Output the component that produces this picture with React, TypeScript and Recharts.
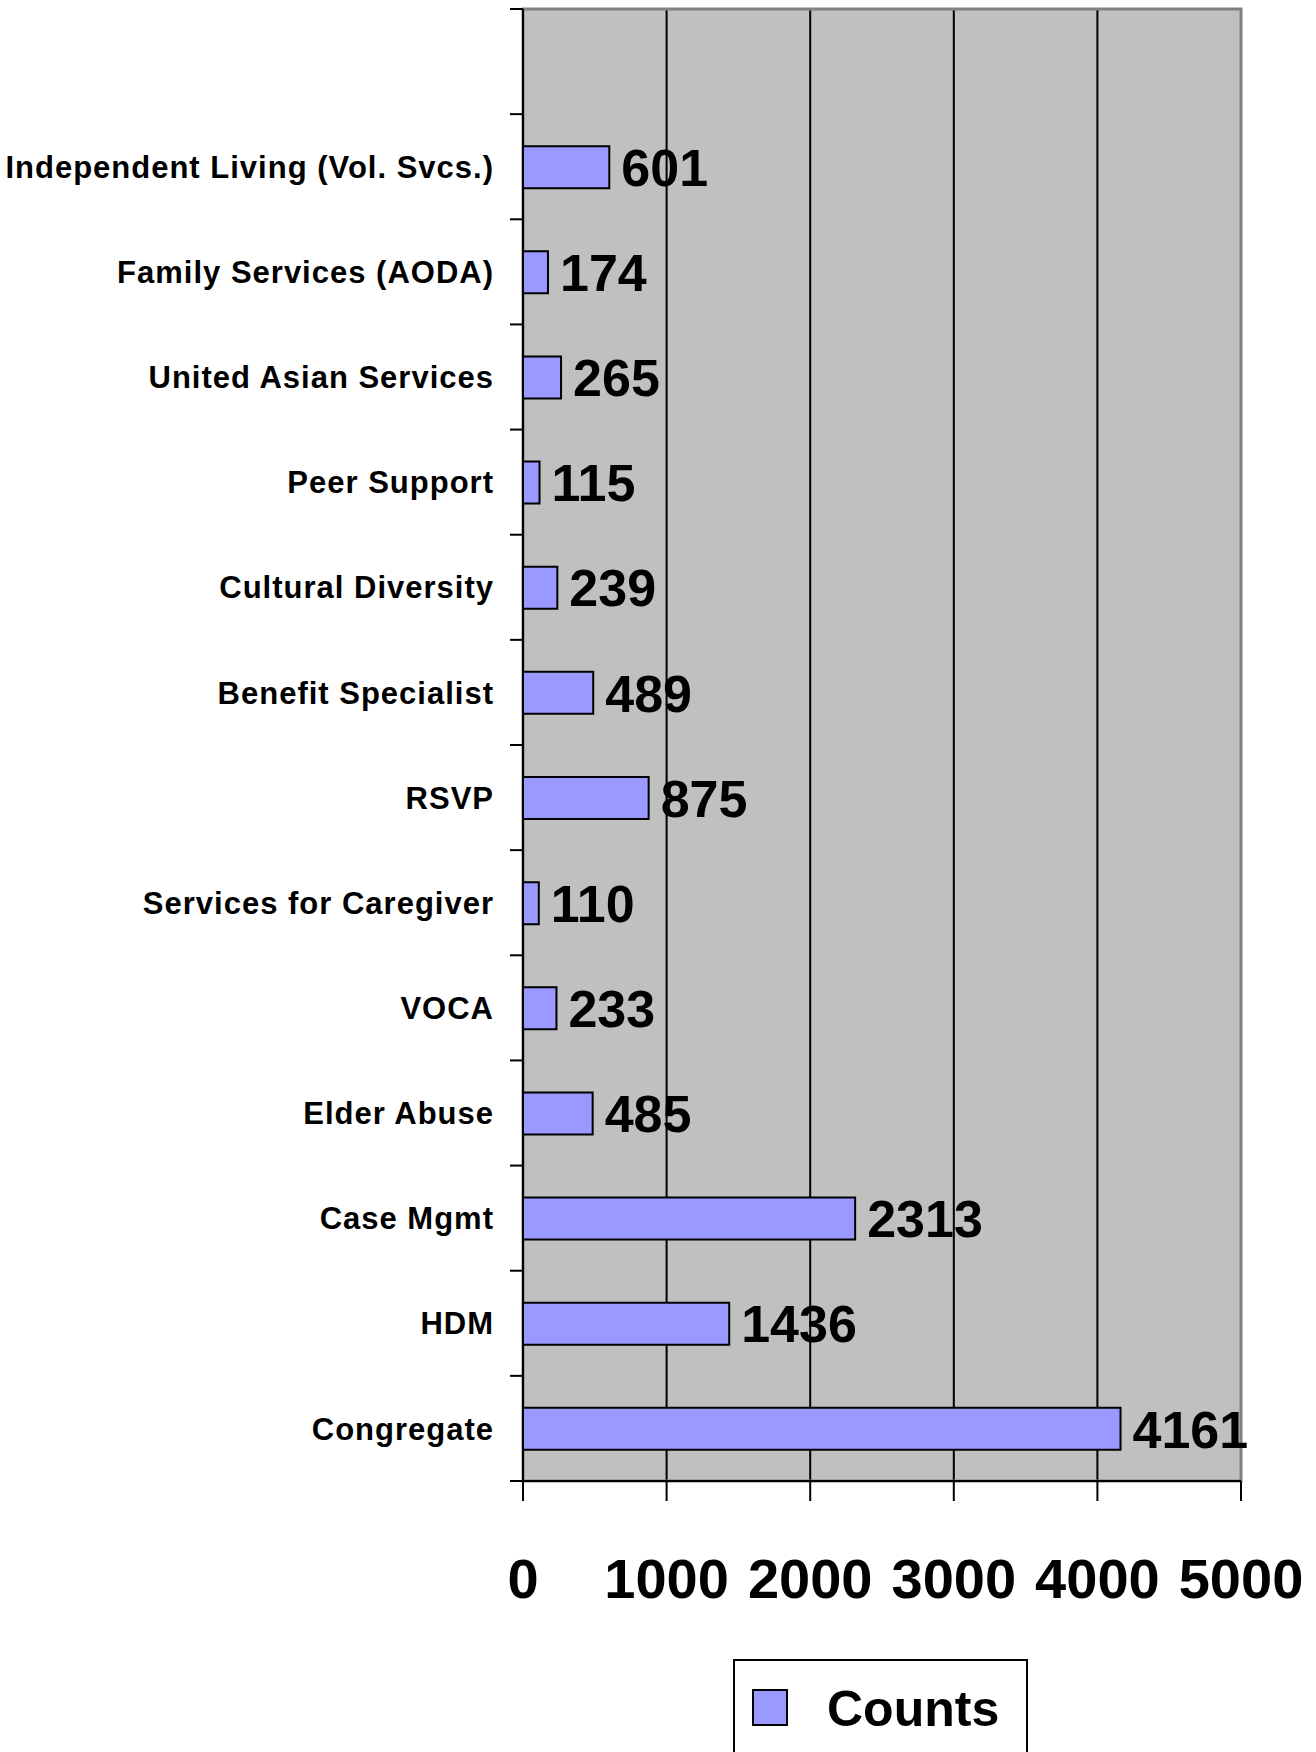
import { BarChart, Bar, XAxis, YAxis, CartesianGrid, LabelList, ReferenceArea } from 'recharts';

const categories = [
  '',
  'Independent Living (Vol. Svcs.)',
  'Family Services (AODA)',
  'United Asian Services',
  'Peer Support',
  'Cultural Diversity',
  'Benefit Specialist',
  'RSVP',
  'Services for Caregiver',
  'VOCA',
  'Elder Abuse',
  'Case Mgmt',
  'HDM',
  'Congregate',
];
const counts: (number | null)[] = [null, 601, 174, 265, 115, 239, 489, 875, 110, 233, 485, 2313, 1436, 4161];
const xTicks = [0, 1000, 2000, 3000, 4000, 5000];
const seriesName = 'Counts';

const data = categories.map((name, i) => ({ name, count: counts[i] }));

const W = 1316;
const H = 1752;
const PLOT_LEFT = 523;
const PLOT_RIGHT = 1241;
const PLOT_TOP = 9;
const PLOT_BOTTOM = 1481;
const BAND = (PLOT_BOTTOM - PLOT_TOP) / categories.length;
const FONT = '"Liberation Sans", Arial, sans-serif';

function CategoryTick(props: any) {
  const { y, payload, index } = props;
  const yc = payload.coordinate ?? y;
  const last = index === categories.length - 1;
  return (
    <g>
      <line x1={PLOT_LEFT - 13} x2={PLOT_LEFT} y1={yc - BAND / 2} y2={yc - BAND / 2} stroke="#000" strokeWidth={2} />
      {last && (
        <line x1={PLOT_LEFT - 13} x2={PLOT_LEFT} y1={yc + BAND / 2} y2={yc + BAND / 2} stroke="#000" strokeWidth={2} />
      )}
      <text
        x={PLOT_LEFT - 29}
        y={yc}
        dy="0.36em"
        textAnchor="end"
        fontFamily={FONT}
        fontWeight="bold"
        fontSize={31}
        letterSpacing={1}
        fill="#000"
      >
        {payload.value}
      </text>
    </g>
  );
}

function ValueTick(props: any) {
  const { x, payload } = props;
  return (
    <text x={x} y={PLOT_BOTTOM + 117} textAnchor="middle" fontFamily={FONT} fontWeight="bold" fontSize={56} fill="#000">
      {payload.value}
    </text>
  );
}

function BarValue(props: any) {
  const { x, y, width, height, value } = props;
  if (value == null) return null;
  return (
    <text
      x={Number(x) + Number(width) + 12}
      y={Number(y) + Number(height) / 2}
      dy="0.36em"
      fontFamily={FONT}
      fontWeight="bold"
      fontSize={52}
      fill="#000"
    >
      {value}
    </text>
  );
}

export default function App() {
  return (
    <div style={{ position: 'fixed', left: 0, top: 0, width: W, height: H, overflow: 'hidden', background: '#fff' }}>
      <BarChart
        layout="vertical"
        width={W}
        height={H}
        data={data}
        margin={{ top: PLOT_TOP, right: W - PLOT_RIGHT, bottom: 0, left: 0 }}
      >
        <CartesianGrid horizontal={false} stroke="#000" strokeWidth={2} fill="#c0c0c0" fillOpacity={1} />
        <ReferenceArea x1={0} x2={5000} fill="none" stroke="#808080" strokeWidth={3} />
        <XAxis
          type="number"
          domain={[0, 5000]}
          ticks={xTicks}
          height={H - PLOT_BOTTOM}
          axisLine={{ stroke: '#000', strokeWidth: 2 }}
          tickLine={{ stroke: '#000', strokeWidth: 2 }}
          tickSize={20}
          tick={<ValueTick />}
          interval={0}
        />
        <YAxis
          type="category"
          dataKey="name"
          width={PLOT_LEFT}
          axisLine={{ stroke: '#000', strokeWidth: 2 }}
          tickLine={false}
          tick={<CategoryTick />}
          interval={0}
        />
        <Bar dataKey="count" fill="#9999ff" stroke="#000" strokeWidth={2} barSize={42} isAnimationActive={false}>
          <LabelList dataKey="count" content={<BarValue />} />
        </Bar>
      </BarChart>
      <div
        style={{
          position: 'absolute',
          left: 733,
          top: 1659,
          width: 295,
          height: 120,
          border: '2px solid #000',
          background: '#fff',
          boxSizing: 'border-box',
        }}
      >
        <div
          style={{
            position: 'absolute',
            left: 17,
            top: 28,
            width: 36,
            height: 37,
            background: '#9999ff',
            border: '2px solid #000',
            boxSizing: 'border-box',
          }}
        />
        <div
          style={{
            position: 'absolute',
            left: 92,
            top: 20,
            fontFamily: FONT,
            fontWeight: 'bold',
            fontSize: 50,
            lineHeight: '56px',
            color: '#000',
          }}
        >
          {seriesName}
        </div>
      </div>
    </div>
  );
}
